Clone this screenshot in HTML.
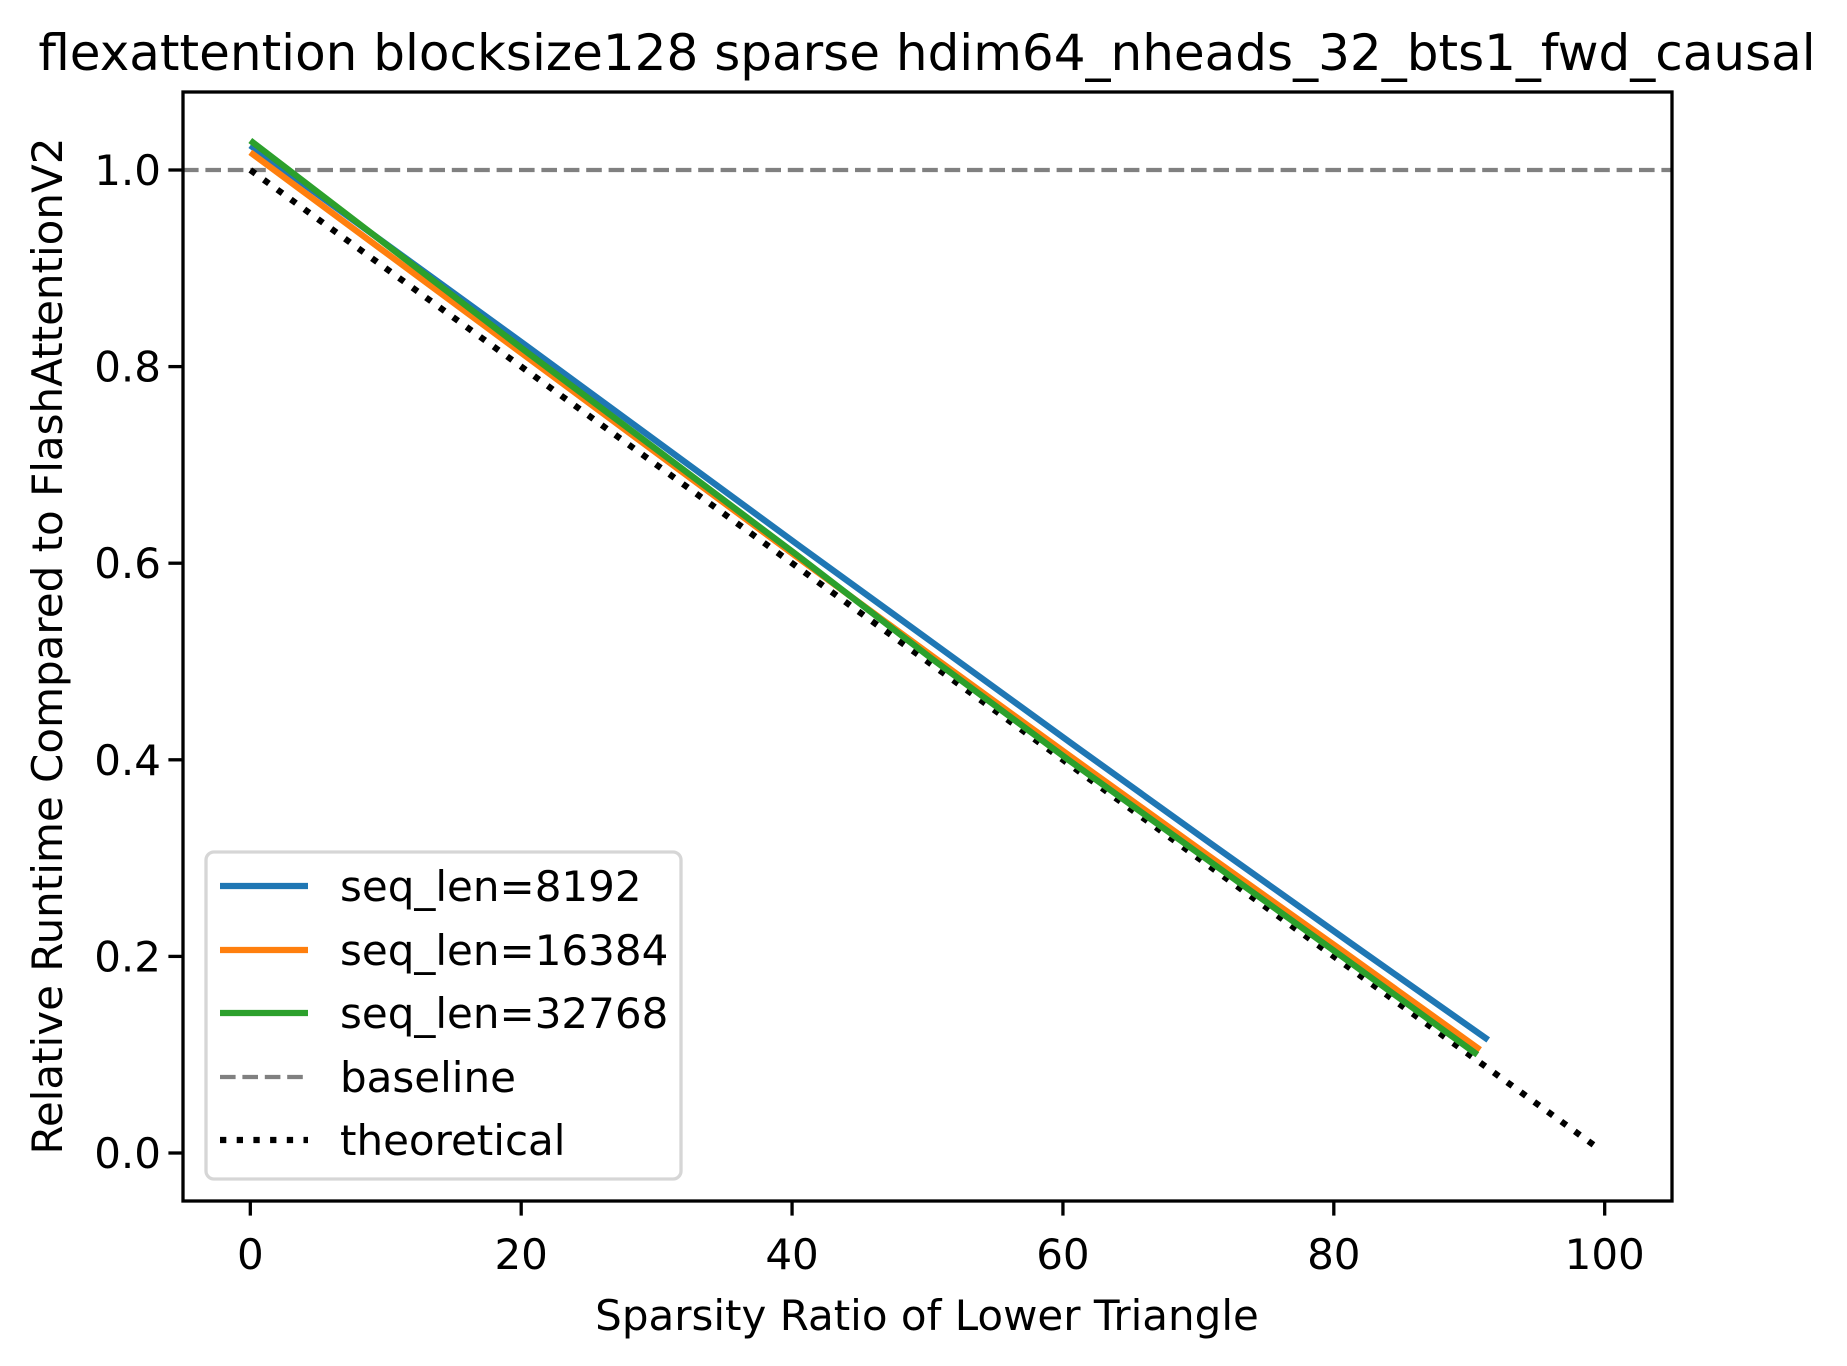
<!DOCTYPE html>
<html><head><meta charset="utf-8"><style>
html,body{margin:0;padding:0;background:#fff;}
svg text{font-family:"DejaVu Sans","Liberation Sans",sans-serif;fill:#000;}
</style></head><body>
<svg id="chart" width="1847" height="1361" xmlns="http://www.w3.org/2000/svg">
<rect width="1847" height="1361" fill="#fff"/>
<text x="927" y="70" font-size="50" text-anchor="middle">flexattention blocksize128 sparse hdim64_nheads_32_bts1_fwd_causal</text>
<text x="927" y="1330" font-size="42" text-anchor="middle">Sparsity Ratio of Lower Triangle</text>
<text x="0" y="0" font-size="42" text-anchor="middle" transform="translate(62,646) rotate(-90)">Relative Runtime Compared to FlashAttentionV2</text>
<g id="plot"></g>
<g id="axes"></g>
<g id="legend"></g>
</svg>
<script>
const xTicks = [0, 20, 40, 60, 80, 100];
const yTicks = [0.0, 0.2, 0.4, 0.6, 0.8, 1.0];
const yTickLabels = ["0.0", "0.2", "0.4", "0.6", "0.8", "1.0"];
const seriesNames = ["seq_len=8192", "seq_len=16384", "seq_len=32768"];
const sparsity8192 = [0, 20.3, 40.6, 50.8, 60.9, 71.1, 81.3, 91.4];
const runtime8192 = [1.025, 0.822, 0.617, 0.515, 0.414, 0.313, 0.213, 0.115];
const sparsity16384 = [0, 20.2, 40.4, 50.5, 60.6, 70.7, 80.8, 90.8];
const runtime16384 = [1.018, 0.812, 0.606, 0.504, 0.403, 0.303, 0.204, 0.105];
const sparsity32768 = [0, 20.1, 40.2, 50.3, 60.4, 70.5, 80.6, 90.6];
const runtime32768 = [1.030, 0.818, 0.610, 0.503, 0.400, 0.300, 0.200, 0.100];
const theoreticalX = [0, 99.5];
const theoreticalY = [1.0, 0.005];
const baselineY = 1.0;

const L=183,R=1672,T=92,B=1201;
const xMin=-4.97,xMax=104.97;
const y0px=1153,y1px=170;
function sx(v){return L+(v-xMin)/(xMax-xMin)*(R-L);}
function sy(v){return y0px+(y1px-y0px)*v;}
const NS="http://www.w3.org/2000/svg";
function mk(tag,attrs,parent){const e=document.createElementNS(NS,tag);for(const k in attrs)e.setAttribute(k,attrs[k]);parent.appendChild(e);return e;}
const plot=document.getElementById('plot'),axes=document.getElementById('axes'),legend=document.getElementById('legend');

const bl=mk('line',{x1:L,x2:R,y1:sy(baselineY),y2:sy(baselineY),stroke:'#808080','stroke-width':4.2,'stroke-dasharray':'15.6 6.8'},plot);



const th=mk('polyline',{points:theoreticalX.map((x,i)=>sx(x)+','+sy(theoreticalY[i])).join(' '),fill:'none',stroke:'#000','stroke-width':6.3,'stroke-dasharray':'6.3 10.4'},plot);



const colors=['#1f77b4','#ff7f0e','#2ca02c'];
const xs=[sparsity8192,sparsity16384,sparsity32768],ys=[runtime8192,runtime16384,runtime32768];
const lineNames=['line-seq-len-8192','line-seq-len-16384','line-seq-len-32768'];
for(let s=0;s<3;s++){
  const p=mk('polyline',{points:xs[s].map((x,i)=>sx(x)+','+sy(ys[s][i])).join(' '),fill:'none',stroke:colors[s],'stroke-width':6.3,'stroke-linejoin':'round'},plot);
  
  
}

const frame=mk('rect',{x:L,y:T,width:R-L,height:B-T,fill:'none',stroke:'#000','stroke-width':3.3},axes);


xTicks.forEach(t=>{
  const x=sx(t);
  const tk=mk('line',{x1:x,x2:x,y1:B,y2:B+14.6,stroke:'#000','stroke-width':3.3},axes);
  
  
  const tx=mk('text',{x:x,y:B+68,'font-size':42,'text-anchor':'middle'},axes);
  tx.textContent=String(t);
  
  
});
yTicks.forEach((t,i)=>{
  const y=sy(t);
  const tk=mk('line',{x1:L-14.6,x2:L,y1:y,y2:y,stroke:'#000','stroke-width':3.3},axes);
  
  
  const tx=mk('text',{x:L-22,y:y+15,'font-size':42,'text-anchor':'end'},axes);
  tx.textContent=yTickLabels[i];
  
  
});

const box=mk('rect',{x:206,y:852,width:475,height:327,rx:8,fill:'#fff','fill-opacity':0.8,stroke:'#d6d6d6','stroke-width':3.3},legend);


const legLabels=seriesNames.concat(['baseline','theoretical']);
const legStyles=[
 {stroke:colors[0]},{stroke:colors[1]},{stroke:colors[2]},
 {stroke:'#808080','stroke-dasharray':'15.6 6.8','stroke-width':4.2},
 {stroke:'#000','stroke-dasharray':'6.3 10.4'}];
const rowY=[886,950,1013,1077,1140];
legLabels.forEach((lab,i)=>{
  const a=Object.assign({x1:220,x2:308,y1:rowY[i],y2:rowY[i],'stroke-width':6.3},legStyles[i]);
  const ln=mk('line',a,legend);
  
  
  const tx=mk('text',{x:340,y:rowY[i]+15,'font-size':42},legend);
  tx.textContent=lab;
  
  
});
</script>
</body></html>
